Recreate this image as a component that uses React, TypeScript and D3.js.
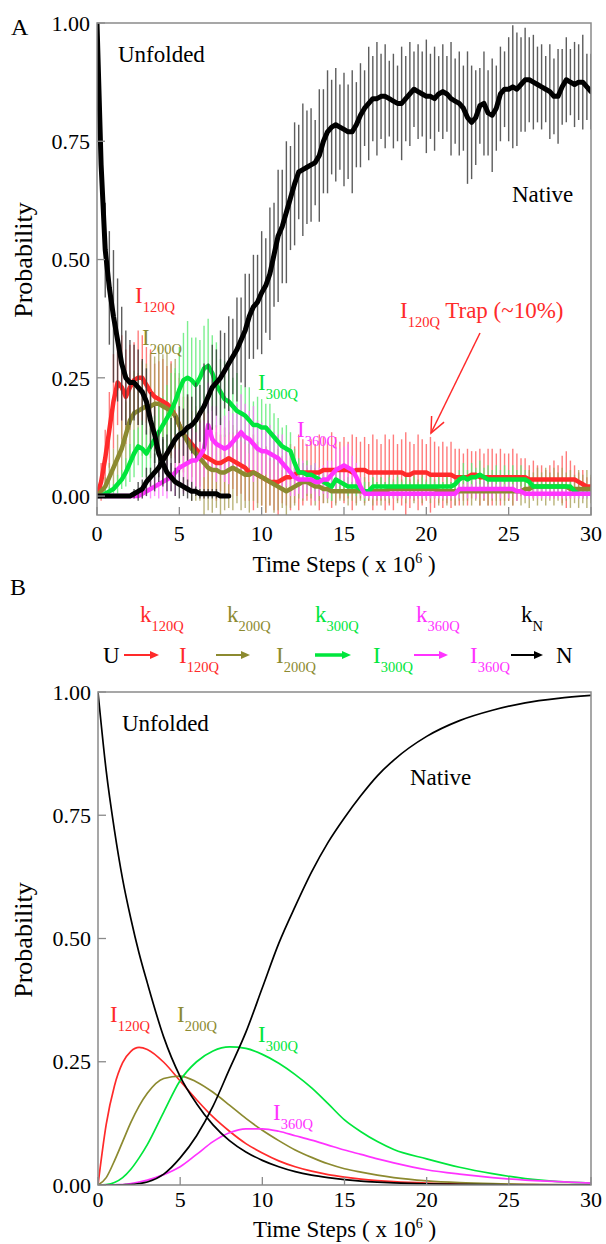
import React from "react";
import * as d3 from "d3";

const FONT = "'Liberation Serif','Times New Roman',serif";

// ---------- Panel A : simulation (probability in %), sampled every 0.25 x10^6 steps ----------
const STEP_A = 0.25;

const nativeA = [
  0, 0, 0, 0,
  0, 0, 0, 0,
  0, 0.5, 1, 1.5,
  3, 4, 5, 6,
  7.5, 9, 10.5, 12,
  13, 13.5, 14.5, 15,
  16, 17.5, 19, 21,
  23, 24, 25, 26.5,
  28, 29.5, 31, 33,
  35, 38, 40, 41,
  43, 44.5, 47, 51,
  55, 57, 60, 63,
  66, 68.5, 69, 69.5,
  70, 70.5, 72, 75,
  77, 78, 78.5, 78,
  77.5, 77, 77, 78.5,
  80.5, 82, 83, 84,
  84, 84.5, 84.5, 84,
  83.5, 83, 83, 84,
  85, 86, 85.5, 85,
  84.5, 84.5, 84, 85,
  85.5, 85, 84, 83.5,
  83, 82, 80, 79,
  80, 82.5, 83, 81,
  80.5, 82, 85, 86,
  86, 86.5, 86, 87,
  88, 88, 87.5, 87,
  86.5, 86, 85.5, 84.5,
  84.5, 86.5, 88, 87.5,
  87, 87.5, 87.5, 86.5,
  85.5,
];
const nativeErrA = [
  0, 0, 0, 0,
  0, 0, 0, 0,
  0, 1, 2, 2,
  3, 2, 4, 3,
  5, 4, 6, 5,
  6, 5, 7, 6,
  8, 6, 9, 7,
  9, 7, 10, 8,
  10, 8, 11, 9,
  12, 9, 11, 10,
  13, 10, 14, 11,
  14, 12, 15, 11,
  13, 10, 14, 12,
  12, 9, 14, 11,
  13, 10, 12, 9,
  12, 10, 13, 9,
  11, 8, 12, 9,
  12, 9, 11, 8,
  10, 8, 12, 9,
  11, 8, 10, 9,
  12, 9, 11, 8,
  10, 8, 12, 9,
  11, 9, 14, 12,
  10, 8, 11, 9,
  12, 9, 10, 8,
  11, 13, 12, 10,
  11, 9, 10, 8,
  9, 7, 10, 8,
  10, 8, 9, 7,
  9, 8, 10, 7,
  8,
];
const unfoldedA = [
  100, 70, 52, 44,
  38, 33, 28, 25,
  24, 24, 23, 22,
  20, 16, 13, 9,
  7, 5, 4, 3,
  2.5, 2, 1.5, 1,
  1, 0.5, 0.5, 0.5,
  0.5, 0.5, 0, 0,
  0,
];
const unfoldedErrA = [
  0, 6, 10, 12,
  14, 13, 12, 10,
  9, 8, 8, 7,
  7, 6, 6, 5,
  5, 4, 3, 3,
  3, 2, 2, 2,
  1, 1, 1, 1,
  1, 1, 0, 0,
  0,
];
const i120A = [
  0, 3, 8, 14,
  20, 24, 23, 21,
  23, 24.5, 25, 25,
  23.5, 22, 21, 20.5,
  20, 19.5, 18.5, 17,
  15, 13, 12, 11,
  10, 9, 8.5, 8,
  7.5, 7, 7, 7.5,
  8, 7.5, 7, 6.5,
  6, 5, 5, 4.5,
  4, 3.5, 3, 3,
  3, 3.5, 4, 4,
  4.5, 5, 5, 5,
  5, 5, 5, 5.5,
  5.5, 5.5, 5.5, 5.5,
  5.5, 5.5, 5, 5.5,
  5.5, 5.5, 5, 5,
  5, 5, 5, 5,
  5, 5, 5, 4.5,
  4.5, 5, 5, 5,
  5, 4.5, 4.5, 4.5,
  4.5, 4.5, 4.5, 4,
  4, 4, 4, 4.5,
  4.5, 4, 4, 4,
  4, 4, 4, 4,
  4, 4, 4, 4,
  4, 3.5, 3.5, 3.5,
  3.5, 3.5, 3.5, 3.5,
  3.5, 3.5, 3.5, 3.5,
  3.5, 3, 2.5, 2,
  2,
];
const i120ErrA = [
  0, 4, 6, 8,
  10, 9, 11, 10,
  9, 8, 10, 9,
  8, 9, 7, 8,
  9, 8, 10, 9,
  10, 8, 9, 7,
  8, 7, 9, 8,
  7, 8, 6, 7,
  8, 6, 7, 6,
  7, 6, 8, 6,
  6, 7, 5, 6,
  7, 5, 6, 7,
  6, 8, 7, 6,
  7, 6, 8, 7,
  6, 8, 7, 6,
  7, 6, 8, 7,
  6, 7, 6, 8,
  7, 6, 8, 7,
  8, 6, 7, 9,
  7, 6, 8, 7,
  6, 8, 7, 6,
  7, 6, 7, 6,
  6, 5, 6, 5,
  5, 6, 5, 6,
  6, 5, 6, 5,
  5, 6, 5, 4,
  4, 3, 4, 3,
  3, 2, 3, 4,
  3, 5, 6, 4,
  3, 2, 3, 2,
  2,
];
const i200A = [
  0, 1, 2, 4,
  6, 8, 10, 13,
  16, 17.5, 18, 18.5,
  19, 19, 19.5, 19.5,
  19, 18.5, 18, 17,
  15, 13, 11.5, 10,
  9, 8, 7, 6,
  5.5, 5.5, 5, 5,
  5.5, 6, 5.5, 5,
  4.5, 4.5, 5, 4.5,
  4, 3.5, 3, 2.5,
  2, 1.5, 1, 1.5,
  2, 2.5, 3, 3,
  2.5, 2, 2, 1.5,
  1.5, 1, 1, 1,
  1, 1, 1, 1,
  1, 1, 1, 1,
  1, 1, 1, 1.5,
  1.5, 1.5, 1.5, 1.5,
  1.5, 1.5, 1.5, 1.5,
  1.5, 1.5, 1.5, 1,
  1, 1, 1, 1,
  1, 1, 1, 1,
  1, 1, 1, 1,
  1, 1, 1, 1,
  1, 1, 1, 1,
  1.5, 1.5, 2, 2,
  2, 2, 2, 2,
  2, 2, 2, 1.5,
  1.5, 1.5, 1.5, 1.5,
  1.5,
];
const i200ErrA = [
  0, 1, 2, 3,
  4, 5, 6, 7,
  8, 9, 8, 10,
  9, 11, 10, 12,
  11, 12, 10, 12,
  11, 12, 10, 11,
  10, 9, 11, 9,
  9, 8, 10, 8,
  8, 9, 7, 8,
  7, 8, 6, 7,
  6, 7, 5, 6,
  5, 4, 5, 4,
  4, 3, 4, 3,
  3, 4, 3, 3,
  3, 2, 3, 2,
  2, 3, 2, 3,
  2, 3, 2, 3,
  2, 3, 2, 3,
  2, 3, 2, 3,
  2, 3, 2, 3,
  2, 3, 2, 3,
  2, 3, 2, 3,
  2, 3, 2, 3,
  2, 3, 2, 3,
  2, 3, 2, 3,
  2, 3, 2, 3,
  3, 4, 3, 4,
  3, 4, 3, 4,
  3, 4, 3, 4,
  3, 4, 3, 4,
  3,
];
const i300A = [
  0, 0, 0.5, 1,
  1.5, 2.5, 3.5, 5,
  7, 9, 10.5, 10,
  9, 10.5, 12, 13.5,
  15, 16.5, 18, 20,
  22.5, 24.5, 25, 24.5,
  23.5, 25, 27, 27.5,
  26, 23.5, 22, 20.5,
  20, 19, 18, 17.5,
  17, 16, 15, 15,
  14.5, 14.5, 13.5, 12.5,
  11.5, 10.5, 10, 9.5,
  7, 5, 5, 4.5,
  4.5, 4, 3.5, 3,
  2.5, 2, 3.5, 3,
  2.5, 2, 2, 2,
  1.5, 1, 1, 2,
  2, 2, 2, 2,
  2, 2, 2, 2,
  2, 2, 2, 2,
  2, 2, 2, 2,
  2, 2, 2, 2.5,
  3.5, 4, 3.5, 4,
  4, 4.5, 4, 3.5,
  3.5, 3.5, 3.5, 3.5,
  3.5, 3.5, 3.5, 3.5,
  3.5, 3, 2, 2,
  2, 2, 2, 2,
  2, 2, 2, 2,
  1, 0.5, 0.5, 0.5,
  0.5,
];
const i300ErrA = [
  0, 0, 1, 1,
  1, 2, 2, 3,
  4, 5, 4, 6,
  5, 6, 5, 7,
  6, 7, 8, 7,
  9, 10, 12, 9,
  10, 8, 9, 10,
  8, 9, 7, 8,
  7, 6, 8, 6,
  6, 7, 5, 6,
  6, 5, 6, 5,
  5, 4, 5, 4,
  3, 3, 2, 3,
  2, 3, 2, 2,
  2, 3, 2, 2,
  1, 2, 1, 2,
  1, 2, 1, 2,
  1, 2, 1, 2,
  1, 2, 1, 2,
  1, 2, 1, 2,
  1, 2, 1, 2,
  1, 2, 1, 2,
  2, 3, 2, 3,
  2, 3, 2, 3,
  2, 3, 2, 3,
  2, 3, 2, 3,
  2, 1, 2, 1,
  2, 1, 2, 1,
  2, 1, 2, 1,
  1, 1, 1, 1,
  1,
];
const i360A = [
  0, 0, 0, 0,
  0, 0, 0, 0,
  0, 0, 0, 0.5,
  1, 1.5, 2, 2.5,
  3, 3.5, 4, 5,
  6, 6.5, 7, 7.5,
  7.5, 8.5, 10, 15,
  12, 11, 10.5, 10,
  10.5, 11.5, 12.5, 13.5,
  12.5, 12, 11, 10,
  9.5, 9.5, 9, 8.5,
  8, 7, 6, 5,
  4, 3.5, 3.5, 3.5,
  3.5, 3, 3, 3.5,
  3.5, 4.5, 5.5, 6,
  6.5, 6, 5.5, 4,
  2, 0.5, 0.5, 0.5,
  0.5, 0.5, 0.5, 0.5,
  0.5, 0.5, 0.5, 0.5,
  0.5, 0.5, 0.5, 0.5,
  0.5, 0.5, 0.5, 0.5,
  0.5, 0.5, 0.5, 0.5,
  1.5, 1.5, 1.5, 1.5,
  1.5, 1.5, 1.5, 1.5,
  1.5, 1.5, 1.5, 1.5,
  1.5, 1.5, 1, 1,
  0.5, 0.5, 0.5, 0.5,
  0.5, 0.5, 0.5, 0.5,
  0.5, 0.5, 0.5, 0.5,
  0.5, 0.5, 0.5, 0.5,
  0.5,
];
const i360ErrA = [
  0, 0, 0, 0,
  0, 0, 0, 0,
  0, 0, 0, 1,
  1, 2, 2, 3,
  3, 4, 3, 5,
  4, 6, 5, 7,
  6, 7, 6, 9,
  7, 8, 6, 7,
  8, 6, 7, 8,
  7, 6, 8, 6,
  6, 5, 6, 5,
  5, 6, 4, 5,
  4, 3, 4, 3,
  3, 4, 3, 3,
  4, 3, 5, 4,
  4, 5, 3, 3,
  2, 1, 1, 1,
  1, 1, 1, 1,
  1, 1, 1, 1,
  1, 1, 1, 1,
  1, 1, 1, 1,
  1, 1, 1, 1,
  2, 1, 2, 1,
  2, 1, 2, 1,
  2, 1, 2, 1,
  2, 1, 2, 1,
  1, 1, 1, 1,
  1, 1, 1, 1,
  1, 1, 1, 1,
  1, 1, 1, 1,
  1,
];

// ---------- Panel B : kinetic model ----------
const timeB = [0, 0.5, 1, 1.5, 2, 2.5, 3, 4, 5, 6, 7, 8, 9, 10, 11, 12, 13, 14, 15, 16, 17, 18, 20, 22, 24, 26, 28, 30];
const unfoldedB = [1, 0.84, 0.72, 0.62, 0.54, 0.47, 0.41, 0.3, 0.22, 0.165, 0.122, 0.09, 0.067, 0.05, 0.037, 0.027, 0.02, 0.015, 0.011, 0.008, 0.006, 0.0045, 0.0025, 0.0014, 0.0007, 0.0004, 0.0002, 0.0001];
const i120B = [0, 0.123, 0.201, 0.248, 0.271, 0.279, 0.275, 0.249, 0.211, 0.173, 0.138, 0.109, 0.084, 0.065, 0.049, 0.037, 0.028, 0.021, 0.016, 0.012, 0.009, 0.0067, 0.0037, 0.002, 0.0011, 0.0006, 0.0003, 0.0002];
const i200B = [0, 0.015, 0.049, 0.088, 0.127, 0.16, 0.186, 0.216, 0.221, 0.209, 0.188, 0.162, 0.135, 0.111, 0.09, 0.071, 0.056, 0.043, 0.033, 0.026, 0.02, 0.015, 0.0085, 0.0048, 0.0027, 0.0015, 0.0008, 0.0005];
const i300B = [0, 0.001, 0.005, 0.015, 0.032, 0.055, 0.082, 0.148, 0.212, 0.25, 0.272, 0.28, 0.277, 0.265, 0.247, 0.224, 0.197, 0.165, 0.132, 0.108, 0.088, 0.072, 0.053, 0.036, 0.023, 0.013, 0.007, 0.004];
const i360B = [0, 0, 0.0005, 0.001, 0.003, 0.006, 0.01, 0.021, 0.037, 0.062, 0.088, 0.106, 0.114, 0.114, 0.109, 0.1, 0.091, 0.081, 0.071, 0.062, 0.053, 0.045, 0.031, 0.022, 0.015, 0.01, 0.007, 0.004];
const nativeB = [0, 0, 0, 0.0005, 0.001, 0.003, 0.006, 0.022, 0.055, 0.1, 0.16, 0.235, 0.31, 0.4, 0.49, 0.565, 0.635, 0.695, 0.745, 0.79, 0.83, 0.862, 0.91, 0.942, 0.963, 0.978, 0.987, 0.993];

// ---------- axes ----------
const xTicks = [0, 5, 10, 15, 20, 25, 30];
const yTicks = [0, 0.25, 0.5, 0.75, 1];

// ---------- colours ----------
const RED = "#ff2a2a";
const OLIVE = "#8c8a30";
const GREEN = "#00e63c";
const MAGENTA = "#ff33ff";
const BLACK = "#000000";

const seriesA = [
  { mean: i120A, err: i120ErrA, color: RED, bar: "#ff5c5c" },
  { mean: i200A, err: i200ErrA, color: OLIVE, bar: "#aaa25a" },
  { mean: i300A, err: i300ErrA, color: GREEN, bar: "#5cec74" },
  { mean: i360A, err: i360ErrA, color: MAGENTA, bar: "#ff74ff" },
];
const blackA = [
  { mean: unfoldedA, err: unfoldedErrA },
  { mean: nativeA, err: nativeErrA },
];
const seriesB = [
  { values: i120B, color: RED },
  { values: i200B, color: OLIVE },
  { values: i300B, color: GREEN },
  { values: i360B, color: MAGENTA },
  { values: unfoldedB, color: BLACK },
  { values: nativeB, color: BLACK },
];

// ---------- layout ----------
const A = { left: 97, right: 591, top: 23, bottom: 515 };
const B = { left: 98, right: 591, top: 692, bottom: 1185 };

function Sub({ x, y, main, sub, color, size = 23, subSize = 14.5, dy = 9, rest }: any) {
  return (
    <text x={x} y={y} fill={color} fontSize={size} fontFamily={FONT}>
      <tspan>{main}</tspan>
      <tspan fontSize={subSize} dy={dy}>{sub}</tspan>
      {rest ? <tspan dy={-dy} fontSize={size}>{rest}</tspan> : null}
    </text>
  );
}

function Frame({ box, x, y, xLabelY, titleY, yTitleY }: any) {
  return (
    <g fontFamily={FONT}>
      <rect x={box.left} y={box.top} width={box.right - box.left} height={box.bottom - box.top}
        fill="none" stroke="#8a8a8a" strokeWidth={1.5} />
      {yTicks.map((t) => (
        <g key={"y" + t}>
          <line x1={box.left} x2={box.left + 8} y1={y(t)} y2={y(t)} stroke="#8a8a8a" strokeWidth={1.3} />
          <text x={box.left - 7} y={y(t)} dy="0.35em" textAnchor="end" fontSize={22}>{t.toFixed(2)}</text>
        </g>
      ))}
      {xTicks.map((t) => (
        <g key={"x" + t}>
          <line x1={x(t)} x2={x(t)} y1={box.bottom} y2={box.bottom - 8} stroke="#8a8a8a" strokeWidth={1.3} />
          <text x={x(t)} y={xLabelY} textAnchor="middle" fontSize={22}>{t}</text>
        </g>
      ))}
      <text x={(box.left + box.right) / 2} y={titleY} textAnchor="middle" fontSize={23}>
        <tspan>Time Steps ( x 10</tspan>
        <tspan fontSize={14} dy={-9}>6</tspan>
        <tspan dy={9}> )</tspan>
      </text>
      <text transform={`translate(32,${yTitleY}) rotate(-90)`} textAnchor="middle" fontSize={26}>Probability</text>
    </g>
  );
}

function SchemeArrow({ x1, x2, y, color, w = 2 }: any) {
  const head = 9;
  return (
    <g>
      <line x1={x1} x2={x2 - head + 1} y1={y} y2={y} stroke={color} strokeWidth={w} />
      <polygon points={`${x2},${y} ${x2 - head},${y - 4} ${x2 - head},${y + 4}`} fill={color} />
    </g>
  );
}

export default function App() {
  const xA = d3.scaleLinear().domain([0, 30]).range([A.left, A.right]);
  const yA = d3.scaleLinear().domain([-0.04, 1]).range([A.bottom, A.top]);
  const xB = d3.scaleLinear().domain([0, 30]).range([B.left, B.right]);
  const yB = d3.scaleLinear().domain([0, 1]).range([B.bottom, B.top]);

  const lineA = d3.line<number>().x((_, i) => xA(i * STEP_A)).y((d) => yA(d / 100)).curve(d3.curveLinear);
  const lineB = d3.line<number>().x((_, i) => xB(timeB[i])).y((d) => yB(d)).curve(d3.curveMonotoneX);

  const bars = (mean: number[], err: number[], color: string, op: number, key: string) =>
    mean.map((m, i) =>
      err[i] > 0 ? (
        <line key={key + i} x1={xA(i * STEP_A)} x2={xA(i * STEP_A)}
          y1={yA((m - err[i]) / 100)} y2={yA((m + err[i]) / 100)}
          stroke={color} strokeWidth={1.4} opacity={op} />
      ) : null
    );

  // trap arrow
  const ax1 = 480, ay1 = 333, ax2 = 431, ay2 = 433;
  const ang = Math.atan2(ay2 - ay1, ax2 - ax1);
  const hl = 17, ha = 0.42;
  const h1 = [ax2 - hl * Math.cos(ang - ha), ay2 - hl * Math.sin(ang - ha)];
  const h2 = [ax2 - hl * Math.cos(ang + ha), ay2 - hl * Math.sin(ang + ha)];

  return (
    <svg width={606} height={1244} style={{ position: "absolute", left: 0, top: 0, background: "#fff" }}
      fontFamily={FONT}>
      <defs>
        <clipPath id="clipA">
          <rect x={A.left} y={A.top} width={A.right - A.left} height={A.bottom - A.top} />
        </clipPath>
        <clipPath id="clipB">
          <rect x={B.left} y={B.top - 2} width={B.right - B.left} height={B.bottom - B.top + 2} />
        </clipPath>
      </defs>

      {/* ---------------- Panel A ---------------- */}
      <text x={11} y={35} fontSize={24}>A</text>
      <g clipPath="url(#clipA)">
        {seriesA.map((s, k) => (
          <g key={"ba" + k}>{bars(s.mean, s.err, s.bar, 0.8, "b" + k)}</g>
        ))}
        {seriesA.map((s, k) => (
          <path key={"la" + k} d={lineA(s.mean) || ""} fill="none" stroke={s.color} strokeWidth={4.5}
            strokeLinejoin="round" strokeLinecap="round" />
        ))}
        {blackA.map((s, k) => (
          <g key={"bk" + k}>{bars(s.mean, s.err, "#353535", 0.8, "k" + k)}</g>
        ))}
        {blackA.map((s, k) => (
          <path key={"lk" + k} d={lineA(s.mean) || ""} fill="none" stroke={BLACK} strokeWidth={5}
            strokeLinejoin="round" strokeLinecap="round" />
        ))}
      </g>
      <Frame box={A} x={xA} y={yA} xLabelY={541} titleY={572} yTitleY={260} />

      <text x={118} y={62} fontSize={23}>Unfolded</text>
      <text x={512} y={202} fontSize={23}>Native</text>
      <Sub x={135} y={303} main="I" sub="120Q" color={RED} />
      <Sub x={142} y={345} main="I" sub="200Q" color={OLIVE} />
      <Sub x={258} y={390} main="I" sub="300Q" color={GREEN} />
      <Sub x={297} y={437} main="I" sub="360Q" color={MAGENTA} />
      <Sub x={400} y={318} main="I" sub="120Q" color={RED} rest=" Trap (~10%)" />
      <g stroke={RED} strokeWidth={1.5} fill="none">
        <line x1={ax1} y1={ay1} x2={ax2} y2={ay2} />
        <polyline points={`${h1[0]},${h1[1]} ${ax2},${ay2} ${h2[0]},${h2[1]}`} />
      </g>

      {/* ---------------- Panel B ---------------- */}
      <text x={10} y={595} fontSize={24}>B</text>
      <g fontSize={23}>
        <Sub x={140} y={622} main="k" sub="120Q" color={RED} />
        <Sub x={227} y={622} main="k" sub="200Q" color={OLIVE} />
        <Sub x={315} y={622} main="k" sub="300Q" color={GREEN} />
        <Sub x={416} y={622} main="k" sub="360Q" color={MAGENTA} />
        <Sub x={521} y={622} main="k" sub="N" color={BLACK} />
        <text x={103} y={663} fontSize={23}>U</text>
        <SchemeArrow x1={124} x2={159} y={655} color={RED} />
        <Sub x={179} y={663} main="I" sub="120Q" color={RED} />
        <SchemeArrow x1={216} x2={250} y={655} color={OLIVE} />
        <Sub x={276} y={663} main="I" sub="200Q" color={OLIVE} />
        <SchemeArrow x1={315} x2={351} y={655} color={GREEN} w={3.5} />
        <Sub x={373} y={663} main="I" sub="300Q" color={GREEN} />
        <SchemeArrow x1={414} x2={448} y={655} color={MAGENTA} />
        <Sub x={470} y={663} main="I" sub="360Q" color={MAGENTA} />
        <SchemeArrow x1={511} x2={543} y={655} color={BLACK} />
        <text x={556} y={663} fontSize={23}>N</text>
      </g>

      <g clipPath="url(#clipB)">
        {seriesB.map((s, k) => (
          <path key={"lb" + k} d={lineB(s.values) || ""} fill="none" stroke={s.color} strokeWidth={1.7} />
        ))}
      </g>
      <Frame box={B} x={xB} y={yB} xLabelY={1207} titleY={1237} yTitleY={940} />

      <text x={122} y={731} fontSize={23}>Unfolded</text>
      <text x={410} y={785} fontSize={23}>Native</text>
      <Sub x={110} y={1022} main="I" sub="120Q" color={RED} />
      <Sub x={177} y={1022} main="I" sub="200Q" color={OLIVE} />
      <Sub x={258} y={1042} main="I" sub="300Q" color={GREEN} />
      <Sub x={273} y={1120} main="I" sub="360Q" color={MAGENTA} />
    </svg>
  );
}
